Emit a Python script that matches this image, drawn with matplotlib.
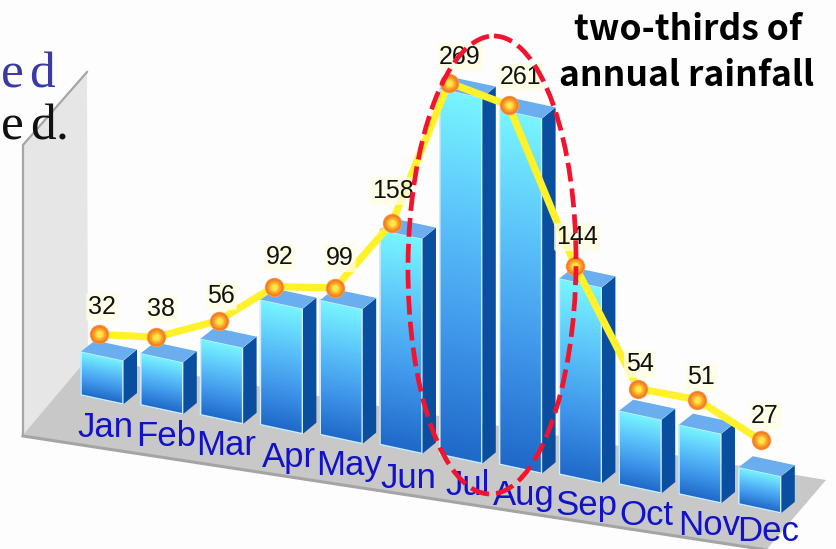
"""Monthly rainfall drawn as a slanted pseudo-3D bar chart with a line on top."""

import numpy as np
import matplotlib
matplotlib.use("Agg")
import matplotlib.pyplot as plt
from matplotlib.colors import LinearSegmentedColormap
from matplotlib.patches import Ellipse, Polygon

months = ["Jan", "Feb", "Mar", "Apr", "May", "Jun", "Jul", "Aug", "Sep", "Oct", "Nov", "Dec"]
rainfall = [32, 38, 56, 92, 99, 158, 269, 261, 144, 54, 51, 27]

# layout, in picture pixels
BAR_X0, BAR_STEP = 81, 59.8
BASE_Y0, BASE_STEP = 395, 9.9
BAR_W, BAR_SLANT = 42, 9
DEPTH_X, DEPTH_Y = 14, -11
PX_PER_MM = 1.36

# where the line marker sits relative to the front-left top corner of each bar
marker_dx = [18, 15, 18, 14, 15, 12, 9, 9, 16, 19, 18, 22]
marker_dy = [-17, -16, -18, -13, -12, -7, -6, -4, -12, -22, -25, -27]
label_x = [102, 161, 221, 280, 340, 393, 460, 521, 577, 640, 701, 765]
label_y = [307, 309, 296, 257, 258, 191, 57, 77, 237, 364, 377, 416]
month_x = [77, 136, 196, 262, 316, 380, 445, 493, 555, 619, 678, 737]
month_y = [437, 446, 455, 467, 475, 488, 495, 505, 515, 525, 535, 541]

front_cmap = LinearSegmentedColormap.from_list(
    "front", ["#78f6ff", "#5cc4fa", "#3f96ea", "#1f68c8"])

fig = plt.figure(figsize=(8.37, 5.49), dpi=100, facecolor="#fdfdfe")
ax = fig.add_axes([0, 0, 1, 1])
ax.set_xlim(0, 837)
ax.set_ylim(549, 0)
ax.axis("off")

# back wall and floor
ax.add_patch(Polygon([(23, 145), (87, 72), (88, 370), (23, 435)],
                     facecolor="#e6e6e6", edgecolor="none", zorder=1))
ax.plot([23, 23, 87], [435, 145, 72], color="#a6a6a6", lw=1.6, zorder=2)
ax.add_patch(Polygon([(23, 435), (88, 358), (826, 480), (767, 549)],
                     facecolor="#c8c8c8", edgecolor="none", zorder=2))
ax.plot([23, 767], [436, 550], color="#a4a4a4", lw=2.2, zorder=2)

top_points = []
for i, value in enumerate(rainfall):
    x = BAR_X0 + BAR_STEP * i
    base = BASE_Y0 + BASE_STEP * i
    h = value * PX_PER_MM
    top = base - h
    x2 = x + BAR_W
    z = 3 + i * 0.01

    # front face, gradient follows the slant of the bar
    ts = np.linspace(0, 1, 24)
    xx = np.array([[x, x2]] * len(ts))
    yy = np.column_stack([top + h * ts, top + BAR_SLANT + h * ts])
    cc = np.column_stack([ts, ts])
    ax.pcolormesh(xx, yy, cc, cmap=front_cmap, shading="gouraud", zorder=z)
    ax.add_patch(Polygon([(x, top), (x2, top + BAR_SLANT), (x2, base + BAR_SLANT), (x, base)],
                         facecolor="none", edgecolor="#cdeeff", lw=1.1, zorder=z))
    # side and top
    ax.add_patch(Polygon([(x2 + 0.6, top + BAR_SLANT), (x2 + DEPTH_X, top + BAR_SLANT + DEPTH_Y),
                          (x2 + DEPTH_X, base + BAR_SLANT + DEPTH_Y), (x2 + 0.6, base + BAR_SLANT)],
                         facecolor="#0a4f9f", edgecolor="none", zorder=z))
    ax.add_patch(Polygon([(x, top), (x2, top + BAR_SLANT), (x2 + DEPTH_X, top + BAR_SLANT + DEPTH_Y),
                          (x + DEPTH_X, top + DEPTH_Y)],
                         facecolor="#6aaef0", edgecolor="none", zorder=z))
    top_points.append((x + marker_dx[i], top + marker_dy[i]))

line_x = [p[0] for p in top_points]
line_y = [p[1] for p in top_points]
ax.plot(line_x, line_y, color="#fff22a", lw=5.2, solid_joinstyle="miter", zorder=5)
ring_sizes = [14, 13, 10, 7, 4.5]
ring_colors = ["#f6a564", "#f47f20", "#fb9c28", "#ffc535", "#ffe84a"]
for j, (ms, col) in enumerate(zip(ring_sizes, ring_colors)):
    ax.plot(line_x, line_y, ls="none", marker="o", ms=ms, mfc=col, mec="none", zorder=6 + j * 0.1)

for i, value in enumerate(rainfall):
    ax.text(label_x[i], label_y[i], str(value), ha="center", va="center", fontsize=18,
            family="Liberation Sans", color="#111111", zorder=7,
            bbox=dict(boxstyle="round,pad=0.08", fc="#fffde2", ec="none", alpha=0.8))

for i, month in enumerate(months):
    ax.text(month_x[i], month_y[i], month, ha="left", va="baseline", fontsize=25,
            family="Liberation Sans", color="#1212c8", zorder=8)

# red ring around the two wet months
ax.add_patch(Ellipse((492, 265), 168, 458, angle=0.5, facecolor="none", edgecolor="#f2142e",
                     lw=3.4, linestyle=(0, (4, 1.5)), zorder=9))

ax.text(688, 30, "two-thirds of", ha="center", va="center", fontsize=25.5, fontweight="bold",
        family="Noto Sans CJK KR", color="black", zorder=10)
ax.text(687, 76, "annual rainfall", ha="center", va="center", fontsize=25.5, fontweight="bold",
        family="Noto Sans CJK KR", color="black", zorder=10)

# leftovers of the slide text behind the chart, spaced out letter by letter
for ch, cx in zip("ed", [1, 29]):
    ax.text(cx, 88, ch, ha="left", va="baseline", fontsize=37, family="Liberation Serif",
            color="#3a3aa6", zorder=10)
for ch, cx in zip("ed.", [1, 30, 56]):
    ax.text(cx, 140, ch, ha="left", va="baseline", fontsize=37, family="Liberation Serif",
            color="#111111", zorder=10)

fig.savefig("out.png", dpi=100, facecolor=fig.get_facecolor())
